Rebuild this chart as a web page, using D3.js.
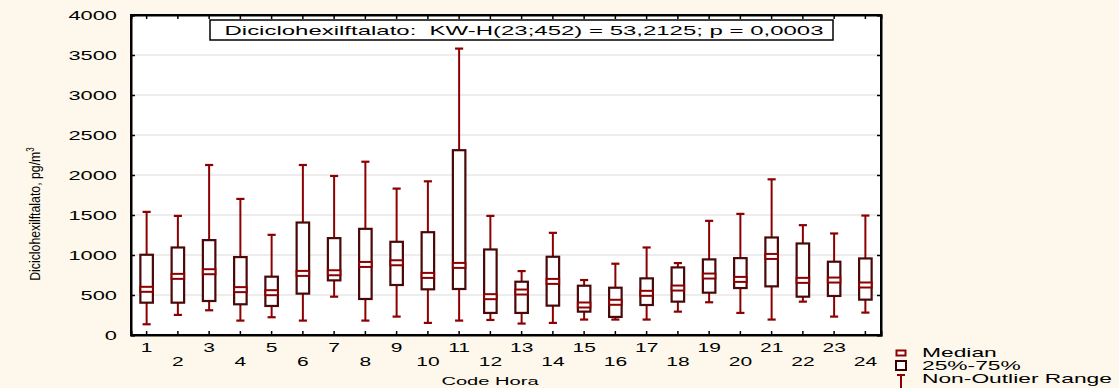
<!DOCTYPE html>
<html>
<head>
<meta charset="utf-8">
<script src="https://cdn.jsdelivr.net/npm/d3@7"></script>
<style>
  html, body { margin: 0; padding: 0; background: #fdf8eb; }
  svg { display: block; font-family: "Liberation Sans", Arial, sans-serif; }
</style>
</head>
<body>
<div id="chart"></div>
<script>
// hours 1..24
const categories = ['1','2','3','4','5','6','7','8','9','10','11','12','13','14','15','16','17','18','19','20','21','22','23','24'];
const whiskerHigh = [1539,1489,2125,1701,1252,2125,1988,2166,1830,1921,3580,1489,799,1277,687,891,1094,899,1427,1514,1946,1373,1269,1493];
const q3 = [1003,1094,1186,974,729,1406,1211,1327,1165,1285,2310,1069,666,978,616,591,708,845,945,961,1219,1144,916,957];
const median = [571,733,791,567,529,770,778,882,903,745,870,479,537,670,375,409,521,587,737,695,982,683,687,625];
const q1 = [404,404,425,384,363,517,683,450,625,571,575,276,276,367,292,226,375,417,529,587,608,479,488,442];
const whiskerLow = [134,251,309,180,222,180,479,180,230,151,180,188,143,151,193,193,193,292,409,276,193,417,230,280];
const yTicks = [0,500,1000,1500,2000,2500,3000,3500,4000];
const legendLabels = ['Median', '25%-75%', 'Non-Outlier Range'];
const titleText = 'Diciclohexilftalato:  KW-H(23;452) = 53,2125; p = 0,0003';

const width = 1119, height = 388;
const margin = { top: 15, right: 238, bottom: 53, left: 131 };
const red = '#8b0000', dark = '#4a0808';

const svg = d3.select('#chart').append('svg')
  .attr('width', width)
  .attr('height', height);

svg.append('rect').attr('width', width).attr('height', height).attr('fill', '#fdf8eb');

const x = d3.scaleBand().domain(categories).range([margin.left, width - margin.right]);
const y = d3.scaleLinear().domain([0, 4000]).range([height - margin.bottom, margin.top]);

// plot area
svg.append('rect')
  .attr('x', margin.left).attr('y', margin.top)
  .attr('width', width - margin.left - margin.right)
  .attr('height', height - margin.top - margin.bottom)
  .attr('fill', '#fff');

// grid
svg.append('g').selectAll('line')
  .data(yTicks.filter(d => d > 0 && d < 4000))
  .join('line')
  .attr('x1', margin.left).attr('x2', width - margin.right)
  .attr('y1', d => y(d)).attr('y2', d => y(d))
  .attr('stroke', '#dcdcdc').attr('stroke-width', 1.2);

// text is stretched sideways in the original picture
const SX = 1.75;

const yAxis = svg.append('g')
  .attr('transform', `translate(${margin.left},0)`)
  .call(d3.axisLeft(y).tickValues(yTicks).tickFormat(d3.format('d')).tickSize(-4).tickPadding(0));
yAxis.selectAll('text')
  .attr('x', 0)
  .attr('transform', `translate(-14,0) scale(${SX},1)`)
  .style('font-size', '12.5px').attr('fill', '#000');

svg.append('g')
  .attr('transform', `translate(${width - margin.right},0)`)
  .call(d3.axisRight(y).tickValues(yTicks).tickSize(-4).tickFormat(''));

svg.append('g')
  .attr('transform', `translate(0,${margin.top})`)
  .call(d3.axisTop(x).tickSize(-4).tickFormat(''));

const xAxis = svg.append('g')
  .attr('transform', `translate(0,${height - margin.bottom})`)
  .call(d3.axisBottom(x).tickSize(-4).tickPadding(0));
xAxis.selectAll('text')
  .attr('y', 0).attr('dy', '0.32em')
  .attr('transform', (d, i) => `translate(0,${i % 2 === 0 ? 13 : 27}) scale(${SX},1)`)
  .style('font-size', '12px').attr('fill', '#000');

svg.selectAll('.domain').attr('stroke', '#000').attr('stroke-width', 2);
svg.selectAll('.tick line').attr('stroke', '#000').attr('stroke-width', 1.5);

// frame
svg.append('rect')
  .attr('x', margin.left).attr('y', margin.top)
  .attr('width', width - margin.left - margin.right)
  .attr('height', height - margin.top - margin.bottom)
  .attr('fill', 'none').attr('stroke', '#000').attr('stroke-width', 2);

// boxes
const bw = x.bandwidth() * 0.4;
const cw = x.bandwidth() * 0.26;
const boxes = svg.append('g').selectAll('g')
  .data(categories)
  .join('g')
  .attr('transform', d => `translate(${x(d) + x.bandwidth() / 2},0)`);

boxes.append('line')
  .attr('y1', (d, i) => y(whiskerHigh[i])).attr('y2', (d, i) => y(q3[i]))
  .attr('stroke', red).attr('stroke-width', 2);
boxes.append('line')
  .attr('y1', (d, i) => y(q1[i])).attr('y2', (d, i) => y(whiskerLow[i]))
  .attr('stroke', red).attr('stroke-width', 2);
boxes.append('line')
  .attr('x1', -cw / 2).attr('x2', cw / 2)
  .attr('y1', (d, i) => y(whiskerHigh[i])).attr('y2', (d, i) => y(whiskerHigh[i]))
  .attr('stroke', red).attr('stroke-width', 2.2);
boxes.append('line')
  .attr('x1', -cw / 2).attr('x2', cw / 2)
  .attr('y1', (d, i) => y(whiskerLow[i])).attr('y2', (d, i) => y(whiskerLow[i]))
  .attr('stroke', red).attr('stroke-width', 2.2);
boxes.append('rect')
  .attr('x', -bw / 2).attr('width', bw)
  .attr('y', (d, i) => y(q3[i]))
  .attr('height', (d, i) => y(q1[i]) - y(q3[i]))
  .attr('fill', '#fff').attr('stroke', dark).attr('stroke-width', 2.2);
boxes.append('rect')
  .attr('x', -bw / 2).attr('width', bw)
  .attr('y', (d, i) => y(median[i]) - 2.5)
  .attr('height', 5)
  .attr('fill', '#fff').attr('stroke', red).attr('stroke-width', 2);

// title box
const tb = svg.append('g');
tb.append('rect')
  .attr('x', 210).attr('y', 20).attr('width', 623).attr('height', 20)
  .attr('fill', '#fff').attr('stroke', '#000').attr('stroke-width', 1.5);
tb.append('text')
  .attr('transform', `translate(524,30) scale(${SX},1)`)
  .attr('text-anchor', 'middle').attr('dy', '0.35em')
  .style('font-size', '13.7px')
  .style('white-space', 'pre')
  .text(titleText);

// axis titles
svg.append('text')
  .attr('transform', `translate(490,381) scale(${SX},1)`)
  .attr('text-anchor', 'middle').attr('dy', '0.35em')
  .style('font-size', '11.5px')
  .text('Code Hora');

const yl = svg.append('text')
  .attr('transform', `translate(35,214) scale(1.25,1) rotate(-90)`)
  .attr('text-anchor', 'middle').attr('dy', '0.35em')
  .style('font-size', '12.3px');
yl.append('tspan').text('Diciclohexilftalato, pg/m');
yl.append('tspan').attr('dy', '-0.6em').style('font-size', '8px').text('3');

// legend
const lg = svg.append('g').attr('transform', 'translate(901,0)');
lg.append('rect').attr('x', -4.5).attr('y', 350.5).attr('width', 9).attr('height', 5)
  .attr('fill', '#fff').attr('stroke', red).attr('stroke-width', 2);
lg.append('rect').attr('x', -5).attr('y', 361).attr('width', 10).attr('height', 9)
  .attr('fill', '#fff').attr('stroke', '#3a0000').attr('stroke-width', 2);
lg.append('line').attr('x1', -4).attr('x2', 4).attr('y1', 375).attr('y2', 375).attr('stroke', red).attr('stroke-width', 2);
lg.append('line').attr('x1', 0).attr('x2', 0).attr('y1', 375).attr('y2', 388).attr('stroke', red).attr('stroke-width', 2);
lg.selectAll('text')
  .data(legendLabels)
  .join('text')
  .attr('transform', (d, i) => `translate(21,${353 + i * 13}) scale(1.9,1)`)
  .attr('dy', '0.35em')
  .style('font-size', '12px')
  .text(d => d);
</script>
</body>
</html>
